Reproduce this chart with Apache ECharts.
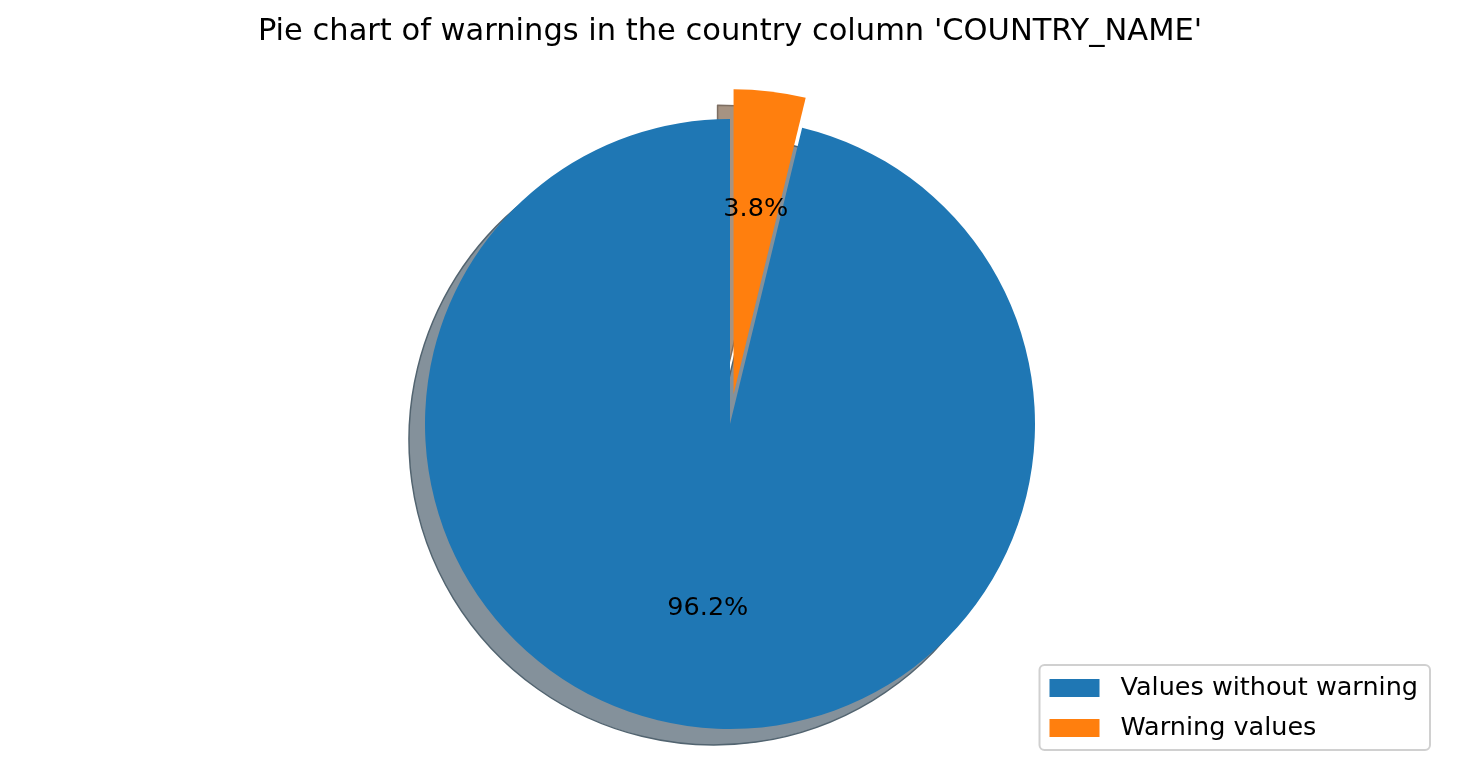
<!DOCTYPE html>
<html>
<head>
<meta charset="utf-8">
<script src="https://cdn.jsdelivr.net/npm/echarts@6/dist/echarts.min.js"></script>
<style>html,body{margin:0;padding:0;background:#fff}#c{width:1460px;height:782px}</style>
</head>
<body>
<div id="c"></div>
<script>
// Data (drawn clockwise from the top: warning slice first)
const categories = ['Warning values', 'Values without warning'];
const values = [3.8, 96.2];
const colors = ['#ff7f0e', '#1f77b4'];
const shadowColors = ['rgb(166,147,130)', 'rgb(132,145,155)'];
const shadowEdges = ['rgb(125,110,98)', 'rgb(82,100,112)'];
const explode = [true, false];
const legendOrder = ['Values without warning', 'Warning values'];
const titleText = "Pie chart of warnings in the country column 'COUNTRY_NAME'";

const FONT = 'DejaVu Sans';
const CX = 730, CY = 424, R = 305, OFF = 30, SH = 16;

const chart = echarts.init(document.getElementById('c'), null, {renderer: 'canvas'});

const shadowData = categories.map((c, i) => ({
  name: '__shadow_' + c, value: values[i], selected: explode[i],
  itemStyle: {color: shadowColors[i], borderColor: shadowEdges[i], borderWidth: 1.5}
}));
const mainData = categories.map((c, i) => ({
  name: c, value: values[i], selected: explode[i],
  itemStyle: {color: colors[i]}
}));
const labelData = categories.map((c, i) => ({
  name: '__label_' + c, value: values[i], selected: explode[i]
}));

const common = {
  type: 'pie', startAngle: 90, clockwise: true, animation: false,
  selectedMode: 'single', selectedOffset: OFF, avoidLabelOverlap: false,
  labelLine: {show: false}, emphasis: {disabled: true}, silent: true,
  minAngle: 0
};

chart.setOption({
  backgroundColor: '#fff',
  animation: false,
  title: {
    text: titleText, left: 'center', top: 12,
    textStyle: {fontFamily: FONT, fontSize: 30.5, fontWeight: 'normal', color: '#000'}
  },
  legend: {
    data: legendOrder, orient: 'vertical', right: 30, bottom: 32,
    icon: 'rect', itemWidth: 50, itemHeight: 18, itemGap: 14,
    padding: [10, 12, 9, 10],
    borderColor: '#d0d0d0', borderWidth: 2, borderRadius: 5, backgroundColor: '#fff',
    selectedMode: false,
    textStyle: {fontFamily: FONT, fontSize: 25.5, color: '#000', padding: [0, 0, 0, 16]}
  },
  series: [
    Object.assign({}, common, {
      name: 'shadow', center: [CX - SH, CY + SH], radius: [0, R],
      label: {show: false}, data: shadowData
    }),
    Object.assign({}, common, {
      name: 'main', center: [CX, CY], radius: [0, R],
      label: {show: false}, data: mainData
    }),
    Object.assign({}, common, {
      name: 'labels', center: [CX, CY], radius: [R * 0.2, R],
      percentPrecision: 1,
      itemStyle: {color: 'rgba(0,0,0,0)'},
      label: {show: true, position: 'inside', formatter: '{d}%',
              fontFamily: FONT, fontSize: 25.5, color: '#000'},
      data: labelData
    })
  ]
});
</script>
</body>
</html>
